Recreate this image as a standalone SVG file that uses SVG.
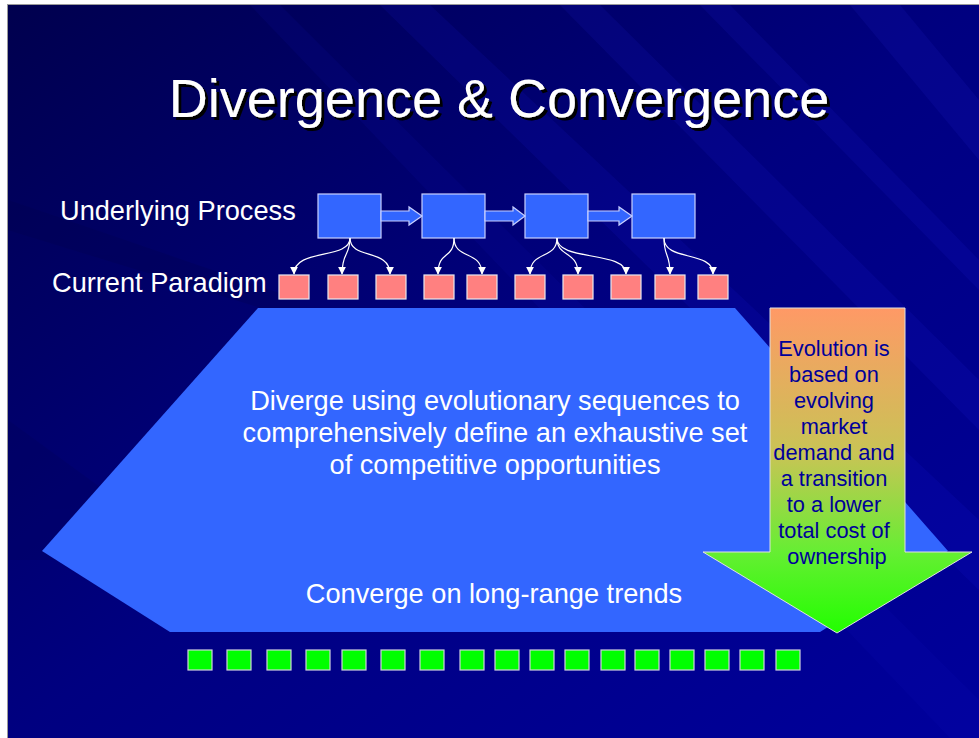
<svg xmlns="http://www.w3.org/2000/svg" width="979" height="738" viewBox="0 0 979 738">
<defs>
<style>
.t{font-family:"Liberation Sans",Arial,sans-serif;}
.wt{fill:#ffffff;font-size:27.2px;}
.proc{fill:#3366ff;stroke:#c8d0ff;stroke-width:1.2;}
.pink{fill:#ff8080;stroke:#e8e8f0;stroke-width:1.2;}
.grn{fill:#00ff00;stroke:#d0d0e0;stroke-width:1.2;}
.conn{fill:none;stroke:#ffffff;stroke-width:1.2;}
.evo{fill:#000099;font-size:21.8px;}
</style>
<filter id="shadow" x="-5%" y="-20%" width="110%" height="140%">
<feOffset in="SourceAlpha" dx="3" dy="3" result="off"/>
<feFlood flood-color="#000000"/>
<feComposite in2="off" operator="in" result="sh"/>
<feMerge><feMergeNode in="sh"/><feMergeNode in="SourceGraphic"/></feMerge>
</filter>
<linearGradient id="bg" x1="0" y1="0" x2="1" y2="1">
<stop offset="0" stop-color="#00004e"/>
<stop offset="0.5" stop-color="#000080"/>
<stop offset="1" stop-color="#00009c"/>
</linearGradient>
<linearGradient id="evoGrad" x1="0" y1="0" x2="0" y2="1">
<stop offset="0" stop-color="#ff9966"/>
<stop offset="0.45" stop-color="#c8c455"/>
<stop offset="0.75" stop-color="#66ee33"/>
<stop offset="1" stop-color="#22ff00"/>
</linearGradient>
<marker id="ah" viewBox="0 0 10 10" refX="9" refY="5" markerWidth="8" markerHeight="8" markerUnits="userSpaceOnUse" orient="auto">
<path d="M0,0 L10,5 L0,10 Z" fill="#ffffff"/>
</marker>
</defs>

<!-- background -->
<rect x="0" y="0" width="979" height="738" fill="#ffffff"/>
<rect x="7.5" y="4.5" width="972" height="734" fill="url(#bg)" stroke="#9a9a9a" stroke-width="1"/>
<g opacity="0.09">
<polygon points="380,5 430,5 979,520 979,590" fill="#2a2aff"/>
<polygon points="560,5 600,5 979,380 979,430" fill="#3030ff"/>
<polygon points="700,5 730,5 979,260 979,290" fill="#3030ff"/>
<polygon points="850,5 900,5 979,100 979,160" fill="#3a3aff"/>
<polygon points="250,5 280,5 979,700 979,738 950,738" fill="#1a1acc"/>
</g>
<g opacity="0.2">
<polygon points="8,200 300,300 300,320 8,230" fill="#000044"/>
<polygon points="8,420 200,560 8,560" fill="#000050"/>
</g>

<!-- title -->
<g id="title">
<text class="t" x="499" y="117" text-anchor="middle" font-size="54" fill="#ffffff" filter="url(#shadow)">Divergence &amp; Convergence</text>
</g>

<!-- labels -->
<g id="label-underlying"><text class="t wt" x="60" y="220">Underlying Process</text></g>
<g id="label-paradigm"><text class="t wt" x="52" y="292">Current Paradigm</text></g>

<!-- big hexagon -->
<g id="diverge-area">
<polygon points="258,308 735,308 948,551 820,632 170,632 42,551" fill="#3366ff"/>
<text class="t wt" x="495" y="410" text-anchor="middle">Diverge using evolutionary sequences to</text>
<text class="t wt" x="495" y="442" text-anchor="middle">comprehensively define an exhaustive set</text>
<text class="t wt" x="495" y="474" text-anchor="middle">of competitive opportunities</text>
<text class="t wt" x="494" y="603" text-anchor="middle">Converge on long-range trends</text>
</g>

<!-- evolution arrow -->
<g id="evolution-arrow">
<polygon points="770,308 905,308 905,552 972,552 837,633 703,552 770,552" fill="url(#evoGrad)" stroke="#e0e0e0" stroke-width="1"/>
<text class="t evo" text-anchor="middle">
<tspan x="837" y="356">Evolution is</tspan>
<tspan x="837" y="382">based on</tspan>
<tspan x="837" y="408">evolving</tspan>
<tspan x="837" y="434">market</tspan>
<tspan x="837" y="460">demand and</tspan>
<tspan x="837" y="486">a transition</tspan>
<tspan x="837" y="512">to a lower</tspan>
<tspan x="837" y="538">total cost of</tspan>
<tspan x="837" y="564">ownership</tspan>
</text>
</g>

<!-- process boxes -->
<g id="proc1"><rect class="proc" x="318" y="194" width="63" height="44"/></g>
<g id="proc2"><rect class="proc" x="422" y="194" width="63" height="44"/></g>
<g id="proc3"><rect class="proc" x="525" y="194" width="63" height="44"/></g>
<g id="proc4"><rect class="proc" x="632" y="194" width="63" height="44"/></g>

<!-- paradigm boxes -->
<g id="p1"><rect class="pink" x="279" y="275" width="30" height="24"/></g>
<g id="p2"><rect class="pink" x="328" y="275" width="30" height="24"/></g>
<g id="p3"><rect class="pink" x="376" y="275" width="30" height="24"/></g>
<g id="p4"><rect class="pink" x="424" y="275" width="30" height="24"/></g>
<g id="p5"><rect class="pink" x="467" y="275" width="30" height="24"/></g>
<g id="p6"><rect class="pink" x="515" y="275" width="30" height="24"/></g>
<g id="p7"><rect class="pink" x="563" y="275" width="30" height="24"/></g>
<g id="p8"><rect class="pink" x="611" y="275" width="30" height="24"/></g>
<g id="p9"><rect class="pink" x="655" y="275" width="30" height="24"/></g>
<g id="p10"><rect class="pink" x="698" y="275" width="30" height="24"/></g>

<!-- trend boxes -->
<g id="trends">
<rect class="grn" x="188" y="650" width="24" height="20"/>
<rect class="grn" x="227" y="650" width="24" height="20"/>
<rect class="grn" x="267" y="650" width="24" height="20"/>
<rect class="grn" x="306" y="650" width="24" height="20"/>
<rect class="grn" x="342" y="650" width="24" height="20"/>
<rect class="grn" x="381" y="650" width="24" height="20"/>
<rect class="grn" x="420" y="650" width="24" height="20"/>
<rect class="grn" x="460" y="650" width="24" height="20"/>
<rect class="grn" x="495" y="650" width="24" height="20"/>
<rect class="grn" x="530" y="650" width="24" height="20"/>
<rect class="grn" x="565" y="650" width="24" height="20"/>
<rect class="grn" x="601" y="650" width="24" height="20"/>
<rect class="grn" x="635" y="650" width="24" height="20"/>
<rect class="grn" x="670" y="650" width="24" height="20"/>
<rect class="grn" x="705" y="650" width="24" height="20"/>
<rect class="grn" x="740" y="650" width="24" height="20"/>
<rect class="grn" x="776" y="650" width="24" height="20"/>
</g>

<!-- connectors -->
<g id="connectors">
<polygon class="proc" points="381,211 409,211 409,207 422,216 409,225 409,221 381,221"/>
<polygon class="proc" points="485,211 513,211 513,207 525,216 513,225 513,221 485,221"/>
<polygon class="proc" points="588,211 619,211 619,207 632,216 619,225 619,221 588,221"/>
<path class="conn" marker-end="url(#ah)" d="M350,238 C350,260 294,248 294,274"/>
<path class="conn" marker-end="url(#ah)" d="M350,238 C350,256 342,252 342,274"/>
<path class="conn" marker-end="url(#ah)" d="M350,238 C350,260 390,248 390,274"/>
<path class="conn" marker-end="url(#ah)" d="M454,238 C454,260 438,250 438,274"/>
<path class="conn" marker-end="url(#ah)" d="M454,238 C454,260 482,250 482,274"/>
<path class="conn" marker-end="url(#ah)" d="M557,238 C557,260 530,250 530,274"/>
<path class="conn" marker-end="url(#ah)" d="M557,238 C557,258 578,250 578,274"/>
<path class="conn" marker-end="url(#ah)" d="M557,238 C557,262 626,250 626,274"/>
<path class="conn" marker-end="url(#ah)" d="M664,238 C664,258 670,252 670,274"/>
<path class="conn" marker-end="url(#ah)" d="M664,238 C664,262 713,250 713,274"/>
</g>
</svg>
